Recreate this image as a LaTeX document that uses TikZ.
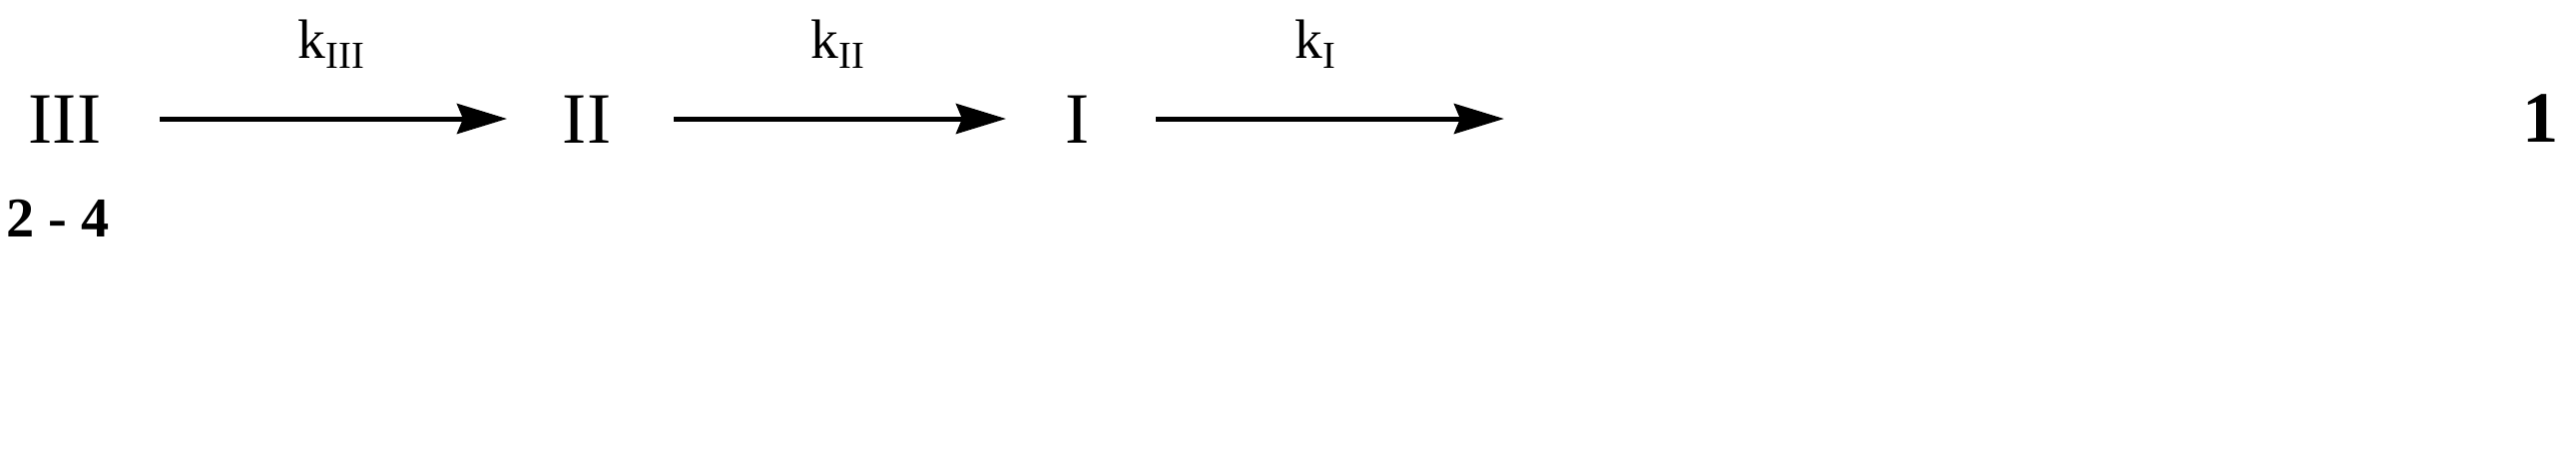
\documentclass[tikz,border=0pt]{standalone}
\usepackage{fontspec}
\setmainfont{Liberation Serif}
\usetikzlibrary{arrows.meta}
\begin{document}
\begin{tikzpicture}[x=0.01cm,y=-0.01cm,
  species/.style={anchor=base,inner sep=0pt,font=\fontsize{20.6}{24}\selectfont},
  bspecies/.style={anchor=base,inner sep=0pt,font=\fontsize{20.6}{24}\selectfont\bfseries},
  rate/.style={anchor=base west,inner sep=0pt,font=\fontsize{15.8}{18}\selectfont},
  react/.style={line width=0.05cm,-{Stealth[length=0.5cm,width=0.3cm,inset=0.06cm]},shorten >=0pt,shorten <=0pt}]
\useasboundingbox (0,0) rectangle (2581,453);
\node[species] (s3) at (65,143) {III};
\node[species] (s2) at (588,143) {II};
\node[species] (s1) at (1080,143) {I};
\node[bspecies] (p) at (2546,142) {1};
\node[anchor=base,inner sep=0pt,font=\fontsize{16}{19}\selectfont\bfseries] (lbl) at (58,237) {2 - 4};
\coordinate (a1s) at (160,119); \coordinate (a1e) at (508,119);
\coordinate (a2s) at (675,119); \coordinate (a2e) at (1008,119);
\coordinate (a3s) at (1158,119); \coordinate (a3e) at (1507,119);
\draw[react] (a1s) -- (a1e);
\draw[react] (a2s) -- (a2e);
\draw[react] (a3s) -- (a3e);
\node[rate] (k3) at (298,58) {k\raisebox{-0.1cm}{\fontsize{10.9}{13}\selectfont III}};
\node[rate] (k2) at (812,58) {k\raisebox{-0.1cm}{\fontsize{10.9}{13}\selectfont II}};
\node[rate] (k1) at (1297,58) {k\raisebox{-0.1cm}{\fontsize{10.9}{13}\selectfont I}};
\end{tikzpicture}
\end{document}
